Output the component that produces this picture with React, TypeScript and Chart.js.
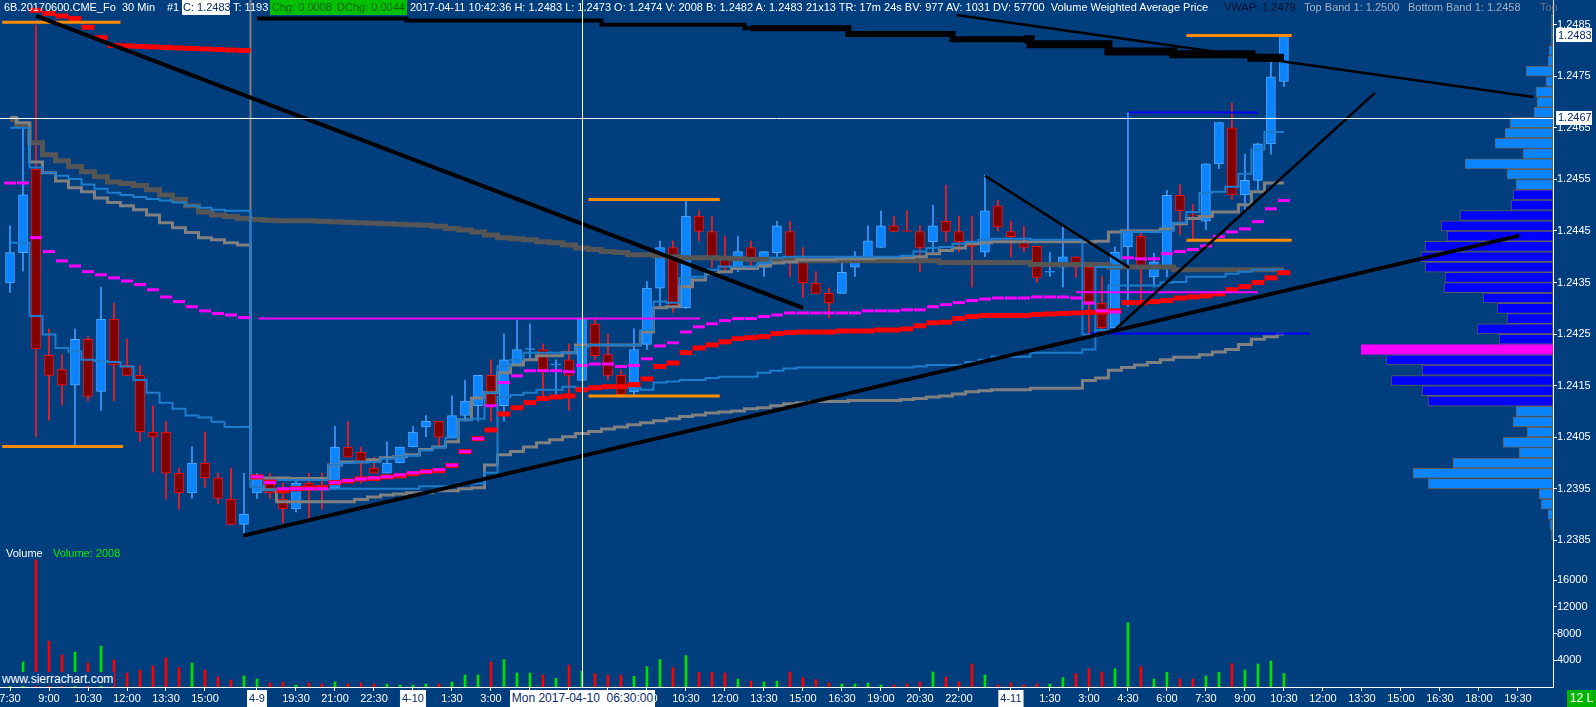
import React, { useEffect, useRef } from 'react';
import { Chart, registerables } from 'chart.js';

Chart.register(...registerables);

// ---------------- data (30 min bars, 6B June 2017) ----------------
const candleOpen = [
  1.24349, 1.24408, 1.2457, 1.24209, 1.24181, 1.24151, 1.2424, 1.24139, 1.24279, 1.2419,
  1.2417, 1.2406, 1.2406, 1.2398, 1.23942, 1.24, 1.23971, 1.2393, 1.23881, 1.23942,
  1.23971, 1.2393, 1.23911, 1.23961, 1.23955, 1.23951, 1.24031, 1.24021, 1.2399, 1.2398,
  1.24, 1.24031, 1.2407, 1.24081, 1.2405, 1.24092, 1.24111, 1.2417, 1.24111, 1.2419,
  1.2422, 1.2422, 1.2419, 1.242, 1.2416, 1.2427, 1.2421, 1.2417, 1.24138, 1.2423,
  1.24339, 1.24418, 1.24301, 1.24479, 1.24449, 1.244, 1.2438, 1.24418, 1.2438, 1.24408,
  1.24449, 1.24391, 1.24349, 1.24329, 1.24329, 1.2438, 1.24399, 1.24418, 1.2446, 1.2445,
  1.24449, 1.24429, 1.24469, 1.24449, 1.24429, 1.24409, 1.24499, 1.24449, 1.24429, 1.2442,
  1.2437, 1.2438, 1.244, 1.2438, 1.2431, 1.24262, 1.24419, 1.2444, 1.24361, 1.2438,
  1.24519, 1.2448, 1.24469, 1.2458, 1.2465, 1.2452, 1.24548, 1.24619, 1.2474,
];
const candleHigh = [
  1.2446, 1.2465, 1.2485, 1.2426, 1.2421, 1.2426, 1.24245, 1.24341, 1.2431, 1.2424,
  1.2419, 1.24111, 1.24081, 1.2399, 1.24032, 1.2406, 1.2398, 1.2399, 1.2398, 1.2398,
  1.2398, 1.23961, 1.23967, 1.2398, 1.2398, 1.24071, 1.24081, 1.24031, 1.24011, 1.24041,
  1.24031, 1.24071, 1.24092, 1.24081, 1.2413, 1.24161, 1.2417, 1.242, 1.24251, 1.24277,
  1.2427, 1.24231, 1.242, 1.24231, 1.24281, 1.24281, 1.2425, 1.2418, 1.2426, 1.24352,
  1.24431, 1.24431, 1.24509, 1.24489, 1.24479, 1.2444, 1.2444, 1.24431, 1.2441, 1.24469,
  1.24469, 1.24418, 1.24371, 1.24339, 1.24387, 1.2441, 1.2446, 1.24489, 1.24479, 1.24489,
  1.2446, 1.245, 1.24539, 1.24479, 1.24479, 1.24559, 1.2451, 1.24469, 1.2446, 1.2442,
  1.24409, 1.24459, 1.244, 1.2439, 1.24362, 1.24419, 1.24679, 1.2445, 1.24407, 1.24529,
  1.2454, 1.24501, 1.2458, 1.2466, 1.24698, 1.24599, 1.2462, 1.24778, 1.2483,
];
const candleLow = [
  1.24331, 1.24372, 1.24051, 1.24083, 1.24112, 1.24033, 1.24121, 1.24102, 1.24121, 1.2417,
  1.24042, 1.23982, 1.2393, 1.23911, 1.23931, 1.23953, 1.23921, 1.23881, 1.23864, 1.23931,
  1.23931, 1.23883, 1.23905, 1.23893, 1.23911, 1.23948, 1.24011, 1.23961, 1.2398, 1.2398,
  1.24, 1.24031, 1.24051, 1.24031, 1.2405, 1.24081, 1.24081, 1.24081, 1.24081, 1.2419,
  1.242, 1.2413, 1.2413, 1.24102, 1.2416, 1.242, 1.24161, 1.2413, 1.24132, 1.2422,
  1.24301, 1.24292, 1.243, 1.24431, 1.2438, 1.24371, 1.24371, 1.2438, 1.24362, 1.244,
  1.24362, 1.24321, 1.24329, 1.24281, 1.24329, 1.24362, 1.24399, 1.24418, 1.24449, 1.24449,
  1.24371, 1.2441, 1.24429, 1.2441, 1.24341, 1.244, 1.2445, 1.244, 1.2441, 1.2435,
  1.24362, 1.24341, 1.2436, 1.24252, 1.24252, 1.24252, 1.24303, 1.24314, 1.24341, 1.24361,
  1.24443, 1.24433, 1.24453, 1.24571, 1.24511, 1.24491, 1.2453, 1.24599, 1.2473,
];
const candleClose = [
  1.24408, 1.2452, 1.24221, 1.2417, 1.24151, 1.2424, 1.24129, 1.24279, 1.2419, 1.2417,
  1.2406, 1.2405, 1.2398, 1.23942, 1.24, 1.23971, 1.23931, 1.23881, 1.23901, 1.23971,
  1.23942, 1.23911, 1.23961, 1.23951, 1.2395, 1.24031, 1.24011, 1.24, 1.2398, 1.24,
  1.24031, 1.2406, 1.24081, 1.2405, 1.24092, 1.2412, 1.2417, 1.24111, 1.242, 1.2422,
  1.2422, 1.2418, 1.2419, 1.2417, 1.24281, 1.24208, 1.2417, 1.24132, 1.2422, 1.24339,
  1.24418, 1.24301, 1.24479, 1.24449, 1.24394, 1.2438, 1.2441, 1.24391, 1.2441, 1.2446,
  1.24391, 1.24349, 1.24329, 1.2431, 1.2437, 1.244, 1.24431, 1.2446, 1.24449, 1.24449,
  1.24418, 1.2446, 1.24449, 1.24429, 1.2442, 1.24489, 1.24458, 1.24439, 1.24418, 1.2436,
  1.2437, 1.244, 1.2438, 1.24312, 1.24262, 1.24409, 1.24448, 1.24378, 1.2439, 1.24519,
  1.24489, 1.24479, 1.2458, 1.2466, 1.2452, 1.24548, 1.24619, 1.24749, 1.2483,
];
const barVolume = [
  1500, 3740, 19000, 6880, 4780, 5230, 3590, 6130, 4040, 2090,
  2540, 3140, 4340, 2890, 3590, 2540, 1500, 1050, 1650, 1200,
  600, 750, 300, 600, 450, 750, 450, 600, 450, 450,
  300, 300, 450, 450, 750, 1800, 1800, 3740, 4100, 2090,
  2090, 1750, 1300, 3290, 2340, 1990, 1750, 1750, 1600, 3040,
  4100, 2890, 4700, 2190, 2190, 2090, 1200, 900, 750, 900,
  2240, 1400, 1100, 600, 450, 450, 600, 300, 300, 450,
  750, 2240, 1500, 750, 3440, 1800, 300, 600, 300, 450,
  450, 1400, 1990, 2740, 2240, 2740, 9600, 3040, 1200, 2190,
  1200, 1200, 1650, 2190, 3490, 2540, 3440, 3890, 2008,
];

// long-period VWAP (dark grey) and its bands
const vwapLong = [
  1.24666, 1.24656, 1.24621, 1.24598, 1.24586, 1.24575, 1.24565, 1.24555, 1.24545, 1.24542,
  1.24538, 1.2453, 1.2452, 1.24511, 1.24499, 1.24487, 1.24481, 1.24478, 1.24474, 1.24472,
  1.24471, 1.2447, 1.2447, 1.2447, 1.24469, 1.24468, 1.24467, 1.24466, 1.24465, 1.24464,
  1.24463, 1.24462, 1.24461, 1.24459, 1.24455, 1.24452, 1.24448, 1.24442, 1.24437, 1.24435,
  1.24433, 1.24429, 1.24427, 1.24423, 1.24417, 1.24414, 1.2441, 1.24408, 1.24404, 1.24404,
  1.24402, 1.244, 1.24398, 1.24398, 1.24398, 1.24397, 1.24396, 1.24395, 1.24395, 1.24394,
  1.24394, 1.24392, 1.24392, 1.24392, 1.24392, 1.24392, 1.24392, 1.24392, 1.24392, 1.24392,
  1.24392, 1.24392, 1.24389, 1.24389, 1.24389, 1.24389, 1.24389, 1.24389, 1.24389, 1.24385,
  1.24385, 1.24385, 1.24385, 1.24385, 1.24385, 1.2438, 1.2438, 1.2438, 1.2438, 1.2438,
  1.24375, 1.24375, 1.24375, 1.24375, 1.24375, 1.24375, 1.24375, 1.24375, 1.24375,
];
const upperBandGrey = [
  1.2467, 1.2466, 1.24584, 1.24563, 1.24547, 1.24534, 1.24526, 1.24514, 1.24505, 1.24499,
  1.24491, 1.24481, 1.24466, 1.24456, 1.24447, 1.24437, 1.24433, 1.24427, 1.24423, 1.23971,
  1.23971, 1.23971, 1.2397, 1.2397, 1.2397, 1.23996, 1.24002, 1.24002, 1.24006, 1.2401,
  1.24012, 1.24016, 1.24026, 1.24031, 1.24041, 1.24084, 1.24126, 1.24136, 1.24175, 1.2419,
  1.242, 1.24208, 1.24208, 1.24214, 1.24229, 1.24229, 1.24229, 1.24229, 1.24229, 1.24254,
  1.24301, 1.24303, 1.24342, 1.24355, 1.24367, 1.24371, 1.24377, 1.24377, 1.24382, 1.24388,
  1.2439, 1.24394, 1.24394, 1.24394, 1.24396, 1.24396, 1.24396, 1.24398, 1.24398, 1.24398,
  1.244, 1.24406, 1.24412, 1.24417, 1.24425, 1.24427, 1.24429, 1.24429, 1.24429, 1.24429,
  1.24429, 1.24429, 1.24429, 1.24429, 1.2443, 1.24448, 1.2445, 1.2445, 1.2445, 1.24454,
  1.24464, 1.24474, 1.24478, 1.24487, 1.24487, 1.24501, 1.24526, 1.24543, 1.24543,
];
const lowerBandGrey = [
  null, null, null, null, null, null, null, null, null, null,
  null, null, null, null, null, null, null, null, null, 1.23954,
  1.23948, 1.23925, 1.23925, 1.23925, 1.23925, 1.23925, 1.23925, 1.23929, 1.23934, 1.23938,
  1.2394, 1.23942, 1.23942, 1.23946, 1.23946, 1.2395, 1.23952, 1.23996, 1.24016, 1.24022,
  1.24031, 1.24039, 1.24045, 1.24051, 1.24057, 1.24061, 1.24066, 1.2407, 1.24074, 1.24078,
  1.24082, 1.24086, 1.2409, 1.24093, 1.24097, 1.24099, 1.24101, 1.24105, 1.24107, 1.24111,
  1.24115, 1.24117, 1.24119, 1.24119, 1.24119, 1.24121, 1.24121, 1.24121, 1.24121, 1.24123,
  1.24125, 1.24128, 1.2413, 1.24134, 1.24138, 1.2414, 1.24142, 1.24142, 1.24142, 1.24145,
  1.24145, 1.24145, 1.24145, 1.2416, 1.24165, 1.2418, 1.24185, 1.2419, 1.24195, 1.242,
  1.24205, 1.24205, 1.2421, 1.24215, 1.2422, 1.2423, 1.2424, 1.24245, 1.2425,
];
// session VWAP bands (steel blue)
const upperBandBlue = [
  1.2465, 1.2465, 1.24573, 1.24563, 1.24557, 1.24551, 1.2454, 1.24532, 1.24524, 1.2452,
  1.24516, 1.24512, 1.24509, 1.24505, 1.24499, 1.24495, 1.24491, 1.24489, 1.24489, 1.23954,
  1.23967, 1.23967, 1.23967, 1.23967, 1.23967, 1.23996, 1.24, 1.24002, 1.24002, 1.24008,
  1.24012, 1.24014, 1.24024, 1.2403, 1.24049, 1.24084, 1.24086, 1.24136, 1.24188, 1.242,
  1.24214, 1.24214, 1.24214, 1.24214, 1.24225, 1.24229, 1.24229, 1.24229, 1.24229, 1.24258,
  1.24313, 1.24311, 1.24359, 1.24361, 1.24375, 1.24381, 1.24381, 1.24381, 1.24388, 1.24398,
  1.244, 1.244, 1.244, 1.244, 1.244, 1.244, 1.244, 1.244, 1.244, 1.24402,
  1.2441, 1.24417, 1.24419, 1.24425, 1.24429, 1.24433, 1.24435, 1.24435, 1.24435, 1.24433,
  1.24433, 1.24433, 1.24433, 1.24249, 1.2438, 1.2438, 1.24448, 1.24448, 1.24448, 1.2445,
  1.24466, 1.24487, 1.24524, 1.24526, 1.24536, 1.24561, 1.24608, 1.24642, 1.24642,
];
const lowerBandBlue = [
  1.24427, 1.24427, 1.24285, 1.24249, 1.24223, 1.24216, 1.242, 1.24198, 1.24196, 1.24187,
  1.24161, 1.24136, 1.24117, 1.24105, 1.24092, 1.24088, 1.2408, 1.2407, 1.2407, 1.23954,
  1.23948, 1.23948, 1.23948, 1.23948, 1.23948, 1.2395, 1.2395, 1.2395, 1.2395, 1.2395,
  1.2395, 1.2395, 1.23955, 1.23955, 1.23955, 1.2396, 1.2396, 1.23981, 1.24128, 1.24132,
  1.24136, 1.24142, 1.24142, 1.24148, 1.24146, 1.24146, 1.24146, 1.24146, 1.24146, 1.24142,
  1.24156, 1.24158, 1.24161, 1.24161, 1.24165, 1.24167, 1.24167, 1.24167, 1.24175, 1.24179,
  1.24183, 1.24185, 1.24185, 1.24185, 1.24185, 1.24185, 1.24185, 1.24185, 1.24185, 1.24185,
  1.24187, 1.2419, 1.2419, 1.2419, 1.24196, 1.242, 1.24206, 1.24206, 1.24206, 1.24214,
  1.24214, 1.24214, 1.24214, 1.2422, 1.24258, 1.24344, 1.24344, 1.24344, 1.24344, 1.2435,
  1.24351, 1.24361, 1.24361, 1.24361, 1.24367, 1.24371, 1.24375, 1.24375, 1.24375,
];
// session VWAP (red dashes) and moving average (magenta dashes)
const vwapSession = [
  null, null, 1.24878, 1.24872, 1.24867, 1.24862, 1.24845, 1.24825, 1.2481, 1.24809,
  1.24808, 1.24807, 1.24806, 1.24805, 1.24804, 1.24803, 1.24802, 1.24801, 1.248, 1.23973,
  1.23963, 1.23946, 1.2395, 1.23951, 1.23952, 1.23962, 1.23965, 1.23969, 1.2397, 1.23973,
  1.23975, 1.23979, 1.23983, 1.23985, 1.23995, 1.24022, 1.24047, 1.24064, 1.24095, 1.24107,
  1.24117, 1.24125, 1.24128, 1.2413, 1.24142, 1.24146, 1.24148, 1.24148, 1.24152, 1.24163,
  1.24187, 1.24194, 1.24214, 1.24223, 1.24229, 1.24235, 1.24241, 1.24243, 1.24245, 1.24251,
  1.24253, 1.24254, 1.24254, 1.24254, 1.24256, 1.24256, 1.24256, 1.24258, 1.24258, 1.2426,
  1.24266, 1.24272, 1.24273, 1.2428, 1.24284, 1.24286, 1.24286, 1.24286, 1.24286, 1.24288,
  1.24289, 1.2429, 1.24291, 1.24292, 1.24293, 1.24295, 1.24311, 1.24311, 1.24313, 1.24315,
  1.2432, 1.24322, 1.24324, 1.24328, 1.24336, 1.24342, 1.2435, 1.24359, 1.24369,
];
const maMagenta = [
  1.24543, 1.24543, 1.24437, 1.2441, 1.24392, 1.24382, 1.24371, 1.24365, 1.24359, 1.24353,
  1.24346, 1.24336, 1.24322, 1.24313, 1.24303, 1.24295, 1.2429, 1.24287, 1.24282, 1.23973,
  1.23962, 1.2395, 1.2395, 1.2395, 1.2395, 1.23962, 1.23966, 1.23969, 1.23971, 1.23973,
  1.23977, 1.23981, 1.23983, 1.23987, 1.23996, 1.24022, 1.24047, 1.24111, 1.24156, 1.24169,
  1.24179, 1.24179, 1.24179, 1.24177, 1.24189, 1.24192, 1.24192, 1.24187, 1.24189, 1.24202,
  1.24227, 1.24233, 1.24254, 1.24264, 1.2427, 1.24276, 1.2428, 1.2428, 1.24284, 1.24287,
  1.24291, 1.24291, 1.24291, 1.24291, 1.24291, 1.24291, 1.24295, 1.24295, 1.24295, 1.24297,
  1.24297, 1.24303, 1.24307, 1.24311, 1.24315, 1.24318, 1.2432, 1.2432, 1.2432, 1.24322,
  1.24322, 1.24322, 1.2432, 1.2431, 1.24295, 1.24293, 1.24398, 1.24396, 1.24396, 1.24406,
  1.2441, 1.24414, 1.24421, 1.24439, 1.24448, 1.24454, 1.24468, 1.24493, 1.24509,
];
// multi-week VWAP (thick black step)
const vwapWeekly = [
  null, null, null, null, null, null, null, null, null, null,
  null, null, null, null, null, null, null, null, null, 1.24862,
  1.24862, 1.24862, 1.24862, 1.24862, 1.24862, 1.24862, 1.24862, 1.24862, 1.24862, 1.24862,
  1.24862, 1.24858, 1.24858, 1.24858, 1.24858, 1.24858, 1.24858, 1.24858, 1.24858, 1.24858,
  1.24858, 1.24858, 1.24858, 1.24858, 1.24858, 1.24858, 1.2485, 1.2485, 1.2485, 1.2485,
  1.2485, 1.2485, 1.2485, 1.2485, 1.2485, 1.2485, 1.2485, 1.24843, 1.24843, 1.24843,
  1.24843, 1.24843, 1.24843, 1.24843, 1.24843, 1.24832, 1.24832, 1.24832, 1.24832, 1.24832,
  1.24832, 1.24832, 1.24832, 1.24822, 1.24822, 1.24822, 1.24822, 1.24822, 1.24822, 1.24812,
  1.24812, 1.24812, 1.24812, 1.24812, 1.24812, 1.24798, 1.24798, 1.24798, 1.24798, 1.24798,
  1.24793, 1.24793, 1.24793, 1.24793, 1.24793, 1.24793, 1.24786, 1.24786, 1.24786,
];

// horizontal levels (bar index span + price)
const orangeLevelFrom = [-0.6, -0.6, 44.5, 44.5, 90.5, 90.5];
const orangeLevelTo = [8.5, 8.7, 54.6, 54.6, 98.6, 98.6];
const orangeLevelPrice = [1.24855, 1.24032, 1.24511, 1.2413, 1.24829, 1.24432];
const blueLevelFrom = [86.1, 83.1];
const blueLevelTo = [96, 100];
const blueLevelPrice = [1.2468, 1.24251];
const magentaLevelFrom = [19.1, 82];
const magentaLevelTo = [53.1, 96];
const magentaLevelPrice = [1.2428, 1.24331];

// drawn trend lines (bar index / price end points)
const thickTrendFromIdx = [2.0, 17.95];
const thickTrendFromPrice = [1.24867, 1.23859];
const thickTrendToIdx = [61.0, 116.1];
const thickTrendToPrice = [1.24301, 1.24441];
const thinTrendFromIdx = [75.0, 84.8, 72.8];
const thinTrendFromPrice = [1.24557, 1.24254, 1.24869];
const thinTrendToIdx = [86.1, 105, 117.2];
const thinTrendToPrice = [1.24379, 1.24718, 1.2471];

const sessionStartIdx = [18.5];
const sessionStartFromPrice = [1.249];
const sessionStartToPrice = [1.23971];

// volume profile (price row, volume)
const profilePrice = [
  1.2486, 1.2484, 1.2482, 1.248, 1.2478, 1.2476, 1.2474, 1.2472, 1.247, 1.2468,
  1.2466, 1.2464, 1.2462, 1.246, 1.2458, 1.2456, 1.2454, 1.2452, 1.245, 1.2448,
  1.2446, 1.2444, 1.2442, 1.244, 1.2438, 1.2436, 1.2434, 1.2432, 1.243, 1.2428,
  1.2426, 1.2424, 1.2422, 1.242, 1.2418, 1.2416, 1.2414, 1.2412, 1.241, 1.2408,
  1.2406, 1.2404, 1.2402, 1.24, 1.2398, 1.2396, 1.2394, 1.2392, 1.239, 1.2388, 1.2386,
];
const profileVolume = [
  40, 40, 40, 80, 100, 540, 140, 340, 320, 380,
  860, 960, 1160, 600, 1760, 920, 740, 800, 840, 1860,
  2240, 2120, 2560, 2640, 2560, 2160, 2180, 1400, 1120, 920,
  1520, 1080, 3840, 3340, 2620, 3240, 2620, 2500, 740, 800,
  520, 1000, 680, 2000, 2800, 2500, 280, 240, 100, 60, 40,
];
const pocPrice = 1.2422;
const valueAreaHigh = 1.2452;
const valueAreaLow = 1.2412;

// axes
const timeTickIdx = [0, 3, 6, 9, 12, 15, 19, 22, 25, 28, 31, 34, 37, 40, 43, 46, 49, 52, 55, 58, 61, 64, 67, 70, 73, 77, 80, 83, 86, 89, 92, 95, 98, 101, 104, 107, 110, 113, 116];
const timeTickLabels = ['7:30', '9:00', '10:30', '12:00', '13:30', '15:00', '4-9', '19:30', '21:00', '22:30', '4-10', '1:30', '3:00', '4:30', '6:00', '7:30', '9:00', '10:30', '12:00', '13:30', '15:00', '16:30', '19:00', '20:30', '22:00', '4-11', '1:30', '3:00', '4:30', '6:00', '7:30', '9:00', '10:30', '12:00', '13:30', '15:00', '16:30', '18:00', '19:30'];
const dateTickLabels = ['4-9', '4-10', '4-11'];
const priceTicks = [1.2385, 1.239, 1.2395, 1.24, 1.2405, 1.241, 1.2415, 1.242, 1.2425, 1.243, 1.2435, 1.244, 1.2445, 1.245, 1.2455, 1.246, 1.2465, 1.247, 1.2475, 1.248, 1.2485];
const volumeTicks = [4000, 8000, 12000, 16000];

const crossIdx = 44;
const crossPrice = 1.2467;
const lastPrice = 1.2483;

const X_MIN = -0.77;
const X_MAX = 118.7;
const PRICE_MIN = 1.23837;
const PRICE_MAX = 1.24898;
const VOL_MAX = 20935;
const PROFILE_MAX = 31060;

// ---------------- styles ----------------
const BG = '#003e7e';
const FONT = '"Liberation Sans", Arial, sans-serif';
const UP_FILL = '#0a84ff';
const UP_EDGE = '#55aaff';
const DN_FILL = '#800000';
const DN_EDGE = '#ff1010';

function segmentPoints(from: number[], to: number[], fromY: number[], toY: number[]) {
  const pts: any[] = [];
  from.forEach((f, k) => {
    pts.push({ x: f, y: fromY[k] });
    pts.push({ x: to[k], y: toY[k] });
    pts.push({ x: to[k], y: null });
  });
  return pts;
}
const series = (arr: (number | null)[]) => arr.map((v, i) => ({ x: i, y: v }));

export default function App() {
  const canvasRef = useRef<HTMLCanvasElement>(null);

  useEffect(() => {
    Chart.defaults.font.family = FONT;
    Chart.defaults.font.size = 11;
    Chart.defaults.color = '#ffffff';

    const up = candleOpen.map((o, i) => candleClose[i] >= o);

    const overlay = {
      id: 'sierraOverlay',
      afterDatasetsDraw(chart: any) {
        const { ctx, chartArea, scales } = chart;
        const x = Math.round(scales.x.getPixelForValue(crossIdx)) + 0.5;
        const y = Math.round(scales.y.getPixelForValue(crossPrice)) + 0.5;
        ctx.save();
        ctx.strokeStyle = '#ffffff';
        ctx.lineWidth = 1;
        ctx.beginPath();
        ctx.moveTo(x, chartArea.top);
        ctx.lineTo(x, chartArea.bottom);
        ctx.moveTo(chartArea.left, y);
        ctx.lineTo(chartArea.right, y);
        ctx.stroke();
        ctx.restore();
      },
      afterDraw(chart: any) {
        const { ctx, scales } = chart;
        const left = scales.y.left;
        ctx.save();
        ctx.font = '11px ' + FONT;
        ctx.textBaseline = 'middle';
        [lastPrice, crossPrice].forEach((p) => {
          const py = scales.y.getPixelForValue(p);
          ctx.fillStyle = '#ffffff';
          ctx.fillRect(left + 3, Math.round(py) - 7, 36, 14);
          ctx.fillStyle = '#0a2a6a';
          ctx.fillText(p.toFixed(4), left + 5, py + 0.5);
        });
        ctx.restore();
      },
    };

    const lineBase = { type: 'line', xAxisID: 'x', yAxisID: 'y', pointRadius: 0, pointHoverRadius: 0, spanGaps: false, fill: false };

    const datasets: any[] = [
      {
        type: 'bar', label: 'profile', indexAxis: 'y', xAxisID: 'xProfile', yAxisID: 'y',
        data: profilePrice.map((p, i) => ({ y: p, x: profileVolume[i] })),
        backgroundColor: profilePrice.map((p) => Math.abs(p - pocPrice) < 1e-6 ? '#ff00ff' : (p <= valueAreaHigh + 1e-6 && p >= valueAreaLow - 1e-6 ? '#0000ff' : '#0a84ff')),
        borderColor: profilePrice.map((p) => Math.abs(p - pocPrice) < 1e-6 ? '#ff00ff' : '#5e5e5e'),
        borderWidth: 1, borderSkipped: false, barThickness: 10, grouped: false, order: 20,
      },
      {
        type: 'bar', label: 'volume', xAxisID: 'x', yAxisID: 'yVol',
        data: barVolume.map((v, i) => ({ x: i, y: v })),
        backgroundColor: up.map((u) => (u ? '#00e000' : '#ff0000')),
        barThickness: 2, grouped: false, order: 19,
      },
      {
        type: 'bar', label: 'wick', xAxisID: 'x', yAxisID: 'y',
        data: candleLow.map((l, i) => ({ x: i, y: [l, candleHigh[i]] })),
        backgroundColor: up.map((u) => (u ? '#3d9bff' : '#ff1a1a')),
        barThickness: 1, grouped: false, order: 18,
      },
      {
        type: 'bar', label: 'body', xAxisID: 'x', yAxisID: 'y',
        data: candleOpen.map((o, i) => ({ x: i, y: [o, candleClose[i]] })),
        backgroundColor: up.map((u) => (u ? UP_FILL : DN_FILL)),
        borderColor: up.map((u) => (u ? UP_EDGE : DN_EDGE)),
        borderWidth: 1, borderSkipped: false, barThickness: 9, minBarLength: 1, grouped: false, order: 17,
      },
      {
        ...lineBase, label: 'weekly vwap', data: series(vwapWeekly), stepped: 'middle', borderColor: '#000000', borderWidth: 4, order: 12,
        segment: { borderWidth: (c: any) => (c.p0DataIndex < 57 ? 4 : c.p0DataIndex < 78 ? 6 : 8) },
      },
      { ...lineBase, label: 'long vwap', data: series(vwapLong), stepped: 'middle', borderColor: '#555555', borderWidth: 5, order: 11 },
      { ...lineBase, label: 'upper grey', data: series(upperBandGrey), stepped: 'middle', borderColor: '#808080', borderWidth: 3, order: 10 },
      { ...lineBase, label: 'lower grey', data: series(lowerBandGrey), stepped: 'middle', borderColor: '#808080', borderWidth: 3, order: 10 },
      { ...lineBase, label: 'session start', data: segmentPoints(sessionStartIdx, sessionStartIdx, sessionStartFromPrice, sessionStartToPrice), borderColor: '#808080', borderWidth: 2, order: 10 },
      { ...lineBase, label: 'upper blue', data: series(upperBandBlue), stepped: 'middle', borderColor: '#1d7ccc', borderWidth: 2, order: 9 },
      { ...lineBase, label: 'lower blue', data: series(lowerBandBlue), stepped: 'middle', borderColor: '#1d7ccc', borderWidth: 2, order: 9 },
      { ...lineBase, label: 'session vwap', data: series(vwapSession), showLine: false, pointStyle: 'line', pointRadius: 6.5, pointHoverRadius: 6.5, pointBorderColor: '#ff0000', pointBorderWidth: 5, order: 8 },
      { ...lineBase, label: 'ma', data: series(maMagenta), showLine: false, pointStyle: 'line', pointRadius: 6, pointHoverRadius: 6, pointBorderColor: '#ff00ff', pointBorderWidth: 3, order: 7 },
      { ...lineBase, label: 'orange levels', data: segmentPoints(orangeLevelFrom, orangeLevelTo, orangeLevelPrice, orangeLevelPrice), borderColor: '#ff8c00', borderWidth: 3, order: 6 },
      { ...lineBase, label: 'blue levels', data: segmentPoints(blueLevelFrom, blueLevelTo, blueLevelPrice, blueLevelPrice), borderColor: '#0000ff', borderWidth: 2, order: 6 },
      { ...lineBase, label: 'magenta levels', data: segmentPoints(magentaLevelFrom, magentaLevelTo, magentaLevelPrice, magentaLevelPrice), borderColor: '#ff00ff', borderWidth: 2, order: 6 },
      { ...lineBase, label: 'trend thick', data: segmentPoints(thickTrendFromIdx, thickTrendToIdx, thickTrendFromPrice, thickTrendToPrice), borderColor: '#000000', borderWidth: 4, order: 1 },
      { ...lineBase, label: 'trend thin', data: segmentPoints(thinTrendFromIdx, thinTrendToIdx, thinTrendFromPrice, thinTrendToPrice), borderColor: '#000000', borderWidth: 2.5, order: 1 },
    ];

    const axisGrid = { drawOnChartArea: false, drawTicks: true, tickLength: 4, color: '#ffffff', offset: false };

    const chart = new Chart(canvasRef.current as HTMLCanvasElement, {
      type: 'bar',
      data: { datasets },
      plugins: [overlay],
      options: {
        responsive: false,
        maintainAspectRatio: false,
        animation: false,
        events: [],
        layout: { padding: 0, autoPadding: false },
        plugins: { legend: { display: false }, tooltip: { enabled: false }, title: { display: false } },
        scales: {
          x: {
            type: 'linear', position: 'bottom', min: X_MIN, max: X_MAX, offset: false, bounds: 'ticks',
            afterBuildTicks: (s: any) => { s.ticks = timeTickIdx.map((v) => ({ value: v })); },
            afterFit: (s: any) => { s.height = 20; s.paddingLeft = 0; s.paddingRight = 0; },
            ticks: {
              autoSkip: false, maxRotation: 0, minRotation: 0, padding: 1,
              font: { size: 11 },
              callback: (_v: any, i: number) => timeTickLabels[i],
              color: (c: any) => (dateTickLabels.includes(timeTickLabels[timeTickIdx.indexOf(c.tick?.value)]) ? '#0a2a6a' : '#ffffff'),
              showLabelBackdrop: (c: any) => dateTickLabels.includes(timeTickLabels[timeTickIdx.indexOf(c.tick?.value)]),
              backdropColor: '#ffffff',
              backdropPadding: { top: 2, bottom: 3, left: 2, right: 2 },
            },
            grid: axisGrid,
            border: { display: true, color: '#ffffff', width: 1 },
          },
          y: {
            type: 'linear', position: 'right', stack: 'pane', stackWeight: 547, weight: 0, offset: false,
            min: PRICE_MIN, max: PRICE_MAX,
            afterBuildTicks: (s: any) => { s.ticks = priceTicks.map((v) => ({ value: v })); },
            afterFit: (s: any) => { s.width = 43; s.paddingTop = 0; s.paddingBottom = 0; },
            ticks: { padding: 0, font: { size: 11 }, color: '#ffffff', callback: (v: any) => Number(v).toFixed(4) },
            grid: axisGrid,
            border: { display: true, color: '#ffffff', width: 1 },
          },
          yVol: {
            type: 'linear', position: 'right', stack: 'pane', stackWeight: 140, weight: 0, offset: false,
            min: 0, max: VOL_MAX,
            afterBuildTicks: (s: any) => { s.ticks = volumeTicks.map((v) => ({ value: v })); },
            afterFit: (s: any) => { s.width = 43; s.paddingTop = 0; s.paddingBottom = 0; },
            ticks: { padding: 0, font: { size: 11 }, color: '#ffffff', callback: (v: any) => String(v) },
            grid: axisGrid,
            border: { display: true, color: '#ffffff', width: 1 },
          },
          xProfile: {
            type: 'linear', position: 'bottom', display: true, reverse: true, min: 0, max: PROFILE_MAX, offset: false,
            afterFit: (s: any) => { s.height = 0; s.paddingLeft = 0; s.paddingRight = 0; },
            ticks: { display: false },
            grid: { display: false, offset: false },
            border: { display: false },
          },
        },
      } as any,
    } as any);

    return () => chart.destroy();
  }, []);

  const hdr = (left: number, text: string, extra: React.CSSProperties = {}) => (
    <span style={{ position: 'absolute', left, top: 0, height: 15, lineHeight: '15px', whiteSpace: 'pre', ...extra }}>{text}</span>
  );

  return (
    <div style={{ position: 'fixed', left: 0, top: 0, width: 1596, height: 707, background: BG, overflow: 'hidden', fontFamily: FONT, fontSize: 11, color: '#ffffff' }}>
      <canvas ref={canvasRef} width={1596} height={707} style={{ position: 'absolute', left: 0, top: 0, width: 1596, height: 707 }} />
      {hdr(4, '6B.20170600.CME_Fo')}
      {hdr(122, '30 Min')}
      {hdr(167, '#1')}
      {hdr(182, 'C: 1.2483', { background: '#ffffff', color: '#0a2a6a', width: 47, paddingLeft: 1 })}
      {hdr(233, 'T: 1193')}
      {hdr(270, 'Chg: 0.0008', { background: '#00c000', color: '#006000', width: 63, paddingLeft: 2 })}
      {hdr(335, 'DChg: 0.0044', { background: '#00c000', color: '#006000', width: 70, paddingLeft: 2 })}
      {hdr(410, '2017-04-11 10:42:36 H: 1.2483 L: 1.2473 O: 1.2474 V: 2008 B: 1.2482 A: 1.2483')}
      {hdr(806, '21x13 TR: 17m 24s BV: 977 AV: 1031 DV: 57700  Volume Weighted Average Price')}
      {hdr(1224, 'VWAP: 1.2479', { color: '#0c1030' })}
      {hdr(1304, 'Top Band 1: 1.2500', { color: '#a6aec2' })}
      {hdr(1408, 'Bottom Band 1: 1.2458', { color: '#a6aec2' })}
      {hdr(1540, 'Top', { color: '#687088' })}
      <span style={{ position: 'absolute', left: 6, top: 546, lineHeight: '14px' }}>Volume</span>
      <span style={{ position: 'absolute', left: 53, top: 546, lineHeight: '14px', color: '#00ee00' }}>Volume: 2008</span>
      <span style={{ position: 'absolute', left: 0, top: 672, width: 114, height: 14, lineHeight: '14px', background: BG, fontSize: 12, paddingLeft: 2, boxSizing: 'border-box' }}>www.sierrachart.com</span>
      <span style={{ position: 'absolute', left: 510, top: 690, width: 145, height: 17, lineHeight: '17px', background: '#ffffff', color: '#0a2a6a', fontSize: 12, textAlign: 'center', whiteSpace: 'pre' }}>Mon 2017-04-10  06:30:00</span>
      <span style={{ position: 'absolute', left: 1567, top: 690, width: 29, height: 17, lineHeight: '17px', background: '#00b400', color: '#ffffff', fontSize: 12, textAlign: 'center' }}>12 L</span>
    </div>
  );
}
